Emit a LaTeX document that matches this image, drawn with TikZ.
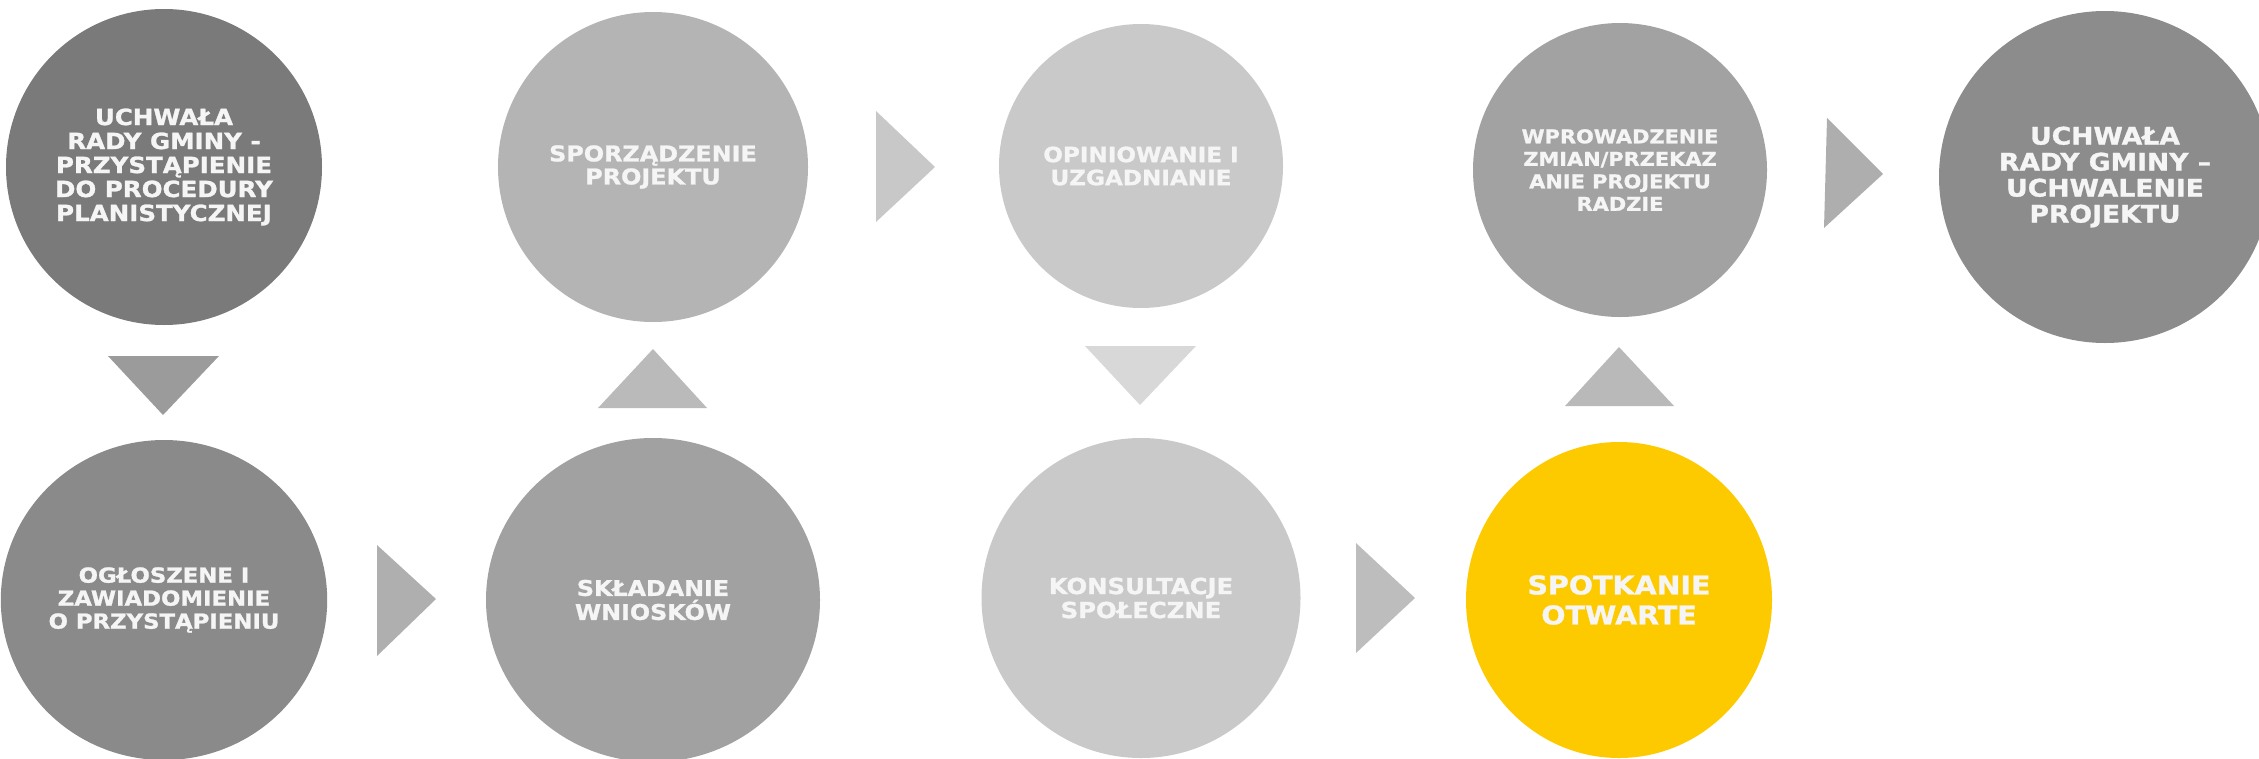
\documentclass[tikz,border=0pt]{standalone}
\usepackage{fontspec}
\usetikzlibrary{shapes.geometric}
\newfontfamily\vb{DejaVu Sans Bold}[FakeStretch=1.1,FakeBold=1.2]
\definecolor{cA}{HTML}{7A7A7A}
\definecolor{cB}{HTML}{B4B4B4}
\definecolor{cC}{HTML}{C9C9C9}
\definecolor{cD}{HTML}{A2A2A2}
\definecolor{cE}{HTML}{8C8C8C}
\definecolor{cF}{HTML}{8A8A8A}
\definecolor{cG}{HTML}{A1A1A1}
\definecolor{cY}{HTML}{FDCA00}
\definecolor{tA}{HTML}{9B9B9B}
\definecolor{tB}{HTML}{BABABA}
\definecolor{tC}{HTML}{D8D8D8}
\definecolor{tD}{HTML}{B9B9B9}
\definecolor{rA}{HTML}{C8C8C8}
\definecolor{rB}{HTML}{AEAEAE}
\definecolor{rC}{HTML}{AFAFAF}
\definecolor{rD}{HTML}{BDBDBD}
\definecolor{txt}{HTML}{F5F5F5}
\tikzset{
  stage/.style={ellipse, inner sep=0pt, align=center, text=txt},
}
\begin{document}
\begin{tikzpicture}[x=1pt,y=-1pt]
\useasboundingbox (0,0) rectangle (2259,758);
\clip (0,0) rectangle (2259,758);
% top row
\node[stage, fill=cA, minimum width=316, minimum height=316,
      font={\vb\fontsize{22.3}{24}\selectfont}] (s1) at (164,167)
  {UCHWAŁA\\RADY GMINY -\\PRZYSTĄPIENIE\\DO PROCEDURY\\PLANISTYCZNEJ};
\node[stage, fill=cB, minimum width=310, minimum height=310,
      font={\vb\fontsize{21.7}{23}\selectfont}] (s2) at (653,167)
  {SPORZĄDZENIE\\PROJEKTU};
\node[stage, fill=cC, minimum width=284, minimum height=284,
      font={\vb\fontsize{21}{23}\selectfont}] (s3) at (1141,166)
  {OPINIOWANIE I\\UZGADNIANIE};
\node[stage, fill=cD, minimum width=294, minimum height=294,
      font={\vb\fontsize{19}{22.5}\selectfont}] (s4) at (1620,170)
  {WPROWADZENIE\\ZMIAN/PRZEKAZ\\ANIE PROJEKTU\\RADZIE};
\node[stage, fill=cE, minimum width=332, minimum height=332,
      font={\vb\fontsize{24.2}{26}\selectfont}] (s5) at (2105,177)
  {UCHWAŁA\\RADY GMINY –\\UCHWALENIE\\PROJEKTU};
% bottom row
\node[stage, fill=cF, minimum width=320, minimum height=320,
      font={\vb\fontsize{20.7}{23}\selectfont}] (s6) at (164,600)
  {OGŁOSZENE I\\ZAWIADOMIENIE\\O PRZYSTĄPIENIU};
\node[stage, fill=cG, minimum width=334, minimum height=324,
      font={\vb\fontsize{21.6}{24}\selectfont}] (s7) at (653,600)
  {SKŁADANIE\\WNIOSKÓW};
\node[stage, fill=cC, minimum width=319, minimum height=320,
      font={\vb\fontsize{22.1}{24}\selectfont}] (s8) at (1141,598)
  {KONSULTACJE\\SPOŁECZNE};
\node[stage, fill=cY, minimum width=306, minimum height=316,
      font={\vb\fontsize{25.9}{30}\selectfont}] (s9) at (1619,600)
  {SPOTKANIE\\OTWARTE};
% arrows (triangles)
\fill[tA] (108,356) -- (219,356) -- (163,415) -- cycle;
\fill[tB] (598,408) -- (707,408) -- (653,349) -- cycle;
\fill[tC] (1085,346) -- (1196,346) -- (1140,405) -- cycle;
\fill[tD] (1565,406) -- (1674,406) -- (1619,347) -- cycle;
\fill[rA] (876,111) -- (876,222) -- (935,167) -- cycle;
\fill[rB] (1827,118) -- (1824,228) -- (1883,174) -- cycle;
\fill[rC] (377,545) -- (377,656) -- (436,599) -- cycle;
\fill[rD] (1356,543) -- (1356,653) -- (1415,598) -- cycle;
\end{tikzpicture}
\end{document}
